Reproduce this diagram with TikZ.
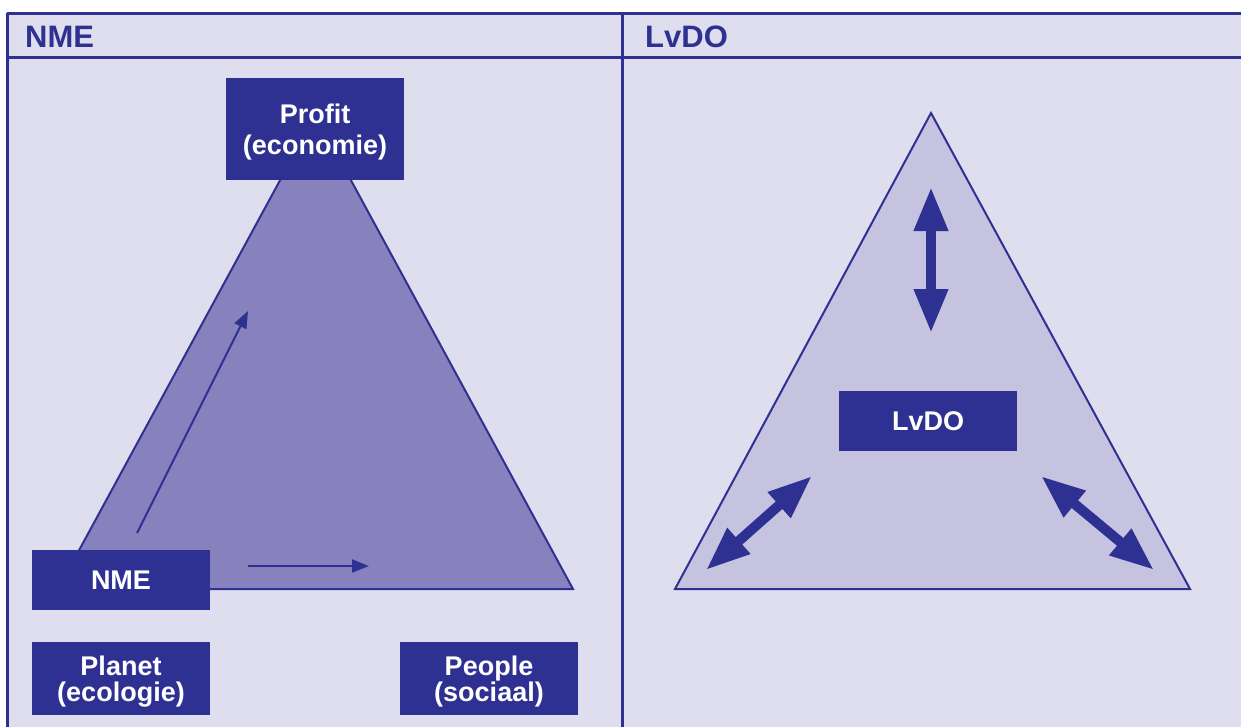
\documentclass[tikz,border=0pt]{standalone}
\usepackage{fontspec}
\setmainfont{Liberation Sans}
\usetikzlibrary{arrows.meta}
\definecolor{navy}{HTML}{2E3192}
\definecolor{panel}{HTML}{DFDEEF}
\definecolor{trileft}{HTML}{8782BD}
\definecolor{triright}{HTML}{C6C3E1}
\newcommand{\topstrut}[1]{\rule{0pt}{#1}}
\begin{document}
\begin{tikzpicture}[x=1pt,y=-1pt,
 box/.style={fill=navy, text=white, inner sep=0pt, font=\fontsize{27}{31}\selectfont\bfseries, align=center, minimum width=178pt},
 tightbox/.style={box, font=\fontsize{27}{26}\selectfont\bfseries},
 hdr/.style={text=navy, font=\fontsize{31}{36}\selectfont\bfseries, anchor=base west, inner sep=0pt},
 frameline/.style={draw=navy, line width=3pt},
 tri/.style={draw=navy, line width=2pt},
 thinarrow/.style={navy, line width=2pt, -{Triangle[length=17pt,width=13pt]}},
 bigarrow/.style={navy, line width=10pt, {Triangle[length=44pt,width=32pt]}-{Triangle[length=44pt,width=32pt]}},
]
\useasboundingbox (0,0) rectangle (1241,726);
\clip (0,0) rectangle (1241,726);
\fill[white] (0,0) rectangle (1241,726);
\fill[panel] (7,13) rectangle (1260,740);

% left triangle
\coordinate (LA) at (315.5,115);
\coordinate (LB) at (58,589);
\coordinate (LC) at (573,589);
\filldraw[tri, fill=trileft] (LA) -- (LB) -- (LC) -- cycle;

% right triangle
\coordinate (RA) at (931,113);
\coordinate (RB) at (675,589);
\coordinate (RC) at (1190,589);
\filldraw[tri, fill=triright] (RA) -- (RB) -- (RC) -- cycle;

% thin arrows
\coordinate (a1s) at (137,533);
\coordinate (a1e) at (248,311);
\draw[thinarrow] (a1s) -- (a1e);
\coordinate (a2s) at (248,566);
\coordinate (a2e) at (369,566);
\draw[thinarrow] (a2s) -- (a2e);

% big double arrows
\coordinate (v1) at (931,187);
\coordinate (v2) at (931,333);
\draw[bigarrow] (v1) -- (v2);
\coordinate (d1) at (706,570);
\coordinate (d2) at (812,476);
\draw[bigarrow] (d1) -- (d2);
\coordinate (e1) at (1041,476);
\coordinate (e2) at (1154,570);
\draw[bigarrow] (e1) -- (e2);

% boxes
\node[box, minimum height=102pt] (profit) at (315,129) {\topstrut{25.3pt}Profit\\(economie)};
\node[box, minimum height=60pt] (nme) at (121,580) {NME};
\node[tightbox, minimum height=73pt] (planet) at (121,678) {\topstrut{27.5pt}Planet\\(ecologie)};
\node[tightbox, minimum height=73pt] (people) at (489,678) {\topstrut{27.5pt}People\\(sociaal)};
\node[box, minimum height=60pt] (lvdo) at (928,421) {LvDO};

% headers
\node[hdr] (hnme) at (25,47) {NME};
\node[hdr] (hlvdo) at (645,47) {LvDO};

% frame lines
\draw[frameline] (7,13) -- (1260,13);
\draw[frameline] (7,13) -- (7,740);
\draw[frameline] (7,57) -- (1260,57);
\draw[frameline] (622,13) -- (622,740);
\end{tikzpicture}
\end{document}
